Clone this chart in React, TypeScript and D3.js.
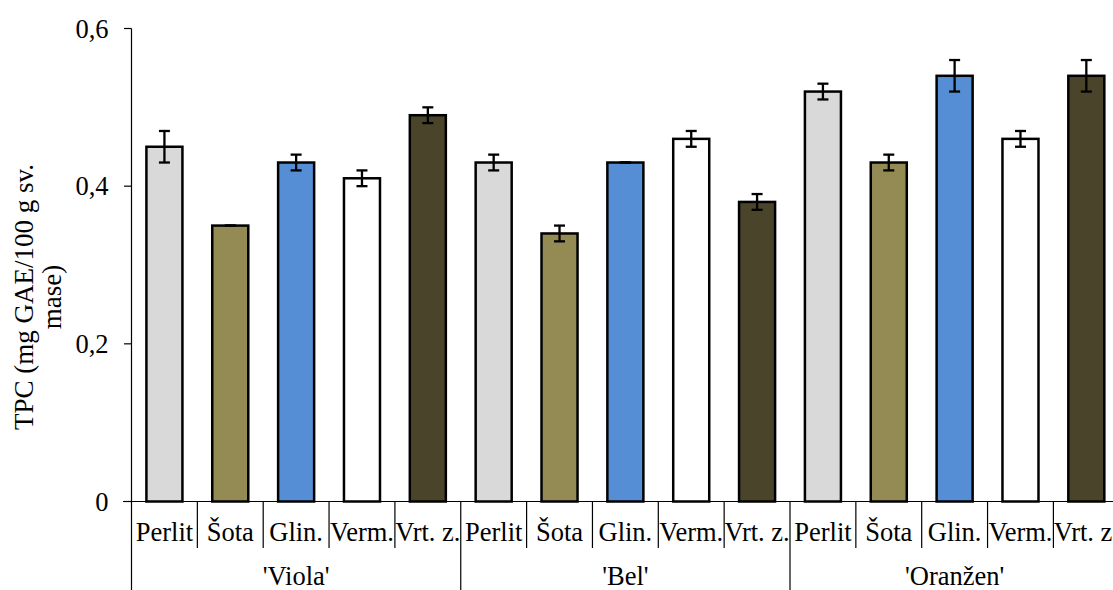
import React from "react";
import * as d3 from "d3";

// Substrates (categories within each cultivar)
const substrates = ["Perlit", "Šota", "Glin.", "Verm.", "Vrt. z."];
// Cultivars (outer grouping)
const cultivars = ["'Viola'", "'Bel'", "'Oranžen'"];
// Mean TPC per cultivar, in substrate order
const violaValues = [0.45, 0.35, 0.43, 0.41, 0.49];
const belValues = [0.43, 0.34, 0.43, 0.46, 0.38];
const oranzenValues = [0.52, 0.43, 0.54, 0.46, 0.54];
// Standard deviations
const violaErrors = [0.02, 0, 0.01, 0.01, 0.01];
const belErrors = [0.01, 0.01, 0, 0.01, 0.01];
const oranzenErrors = [0.01, 0.01, 0.02, 0.01, 0.02];
// Axis ticks
const yTicks = [0, 0.2, 0.4, 0.6];
const yTickLabels = ["0", "0,2", "0,4", "0,6"];
const yTitleLines = ["TPC (mg GAE/100 g sv.", "mase)"];
// Fill per substrate
const substrateColors = ["#d9d9d9", "#948a54", "#558ed5", "#ffffff", "#4a452a"];

const W = 1113;
const H = 590;
const FONT = "Liberation Serif, Times New Roman, serif";

export default function App() {
  const left = 131.5;
  const step = 65.85;
  const nCat = substrates.length * cultivars.length;
  const right = left + step * nCat;
  const yZero = 501.5;
  const yTop = 28.5;

  const valuesByCultivar = [violaValues, belValues, oranzenValues];
  const errorsByCultivar = [violaErrors, belErrors, oranzenErrors];

  const rows = cultivars.flatMap((c, gi) =>
    substrates.map((s, si) => ({
      key: `${gi}-${si}`,
      index: gi * substrates.length + si,
      substrate: s,
      value: valuesByCultivar[gi][si],
      err: errorsByCultivar[gi][si],
      color: substrateColors[si],
    }))
  );

  const x = d3
    .scaleBand<number>()
    .domain(d3.range(nCat))
    .range([left, right])
    .paddingInner(0.453)
    .paddingOuter(0.2265);

  const y = d3.scaleLinear().domain([0, 0.6]).range([yZero, yTop]);

  const groupEdges = d3.range(cultivars.length + 1).map((g) => left + g * substrates.length * step);
  const textStyle = { fontFamily: FONT, fontSize: 26.5 };
  const titleStyle = { fontFamily: FONT, fontSize: 27 };

  return (
    <div style={{ position: "absolute", left: 0, top: 0 }}>
      <svg width={W} height={H} style={{ display: "block", background: "#fff" }}>
        {/* bars */}
        {rows.map((d) => (
          <rect
            key={`b${d.key}`}
            x={x(d.index)}
            y={y(d.value)}
            width={x.bandwidth()}
            height={yZero - y(d.value)}
            fill={d.color}
            stroke="#000"
            strokeWidth={2.5}
          />
        ))}
        {/* error bars */}
        {rows.map((d) => {
          const cx = (x(d.index) as number) + x.bandwidth() / 2;
          const y1 = y(d.value + d.err);
          const y2 = y(d.value - d.err);
          return (
            <g key={`e${d.key}`} stroke="#000" strokeWidth={2.3}>
              <line x1={cx} x2={cx} y1={y1} y2={y2} />
              <line x1={cx - 5.5} x2={cx + 5.5} y1={y1} y2={y1} />
              <line x1={cx - 5.5} x2={cx + 5.5} y1={y2} y2={y2} />
            </g>
          );
        })}
        {/* y axis */}
        <line x1={left} x2={left} y1={yTop} y2={H} stroke="#000" strokeWidth={1.2} />
        {yTicks.map((t, i) => (
          <g key={`t${i}`}>
            <line x1={left - 7.5} x2={left} y1={y(t)} y2={y(t)} stroke="#000" strokeWidth={1.2} />
            <text x={108.5} y={y(t) + 9} textAnchor="end" style={textStyle} fill="#000">
              {yTickLabels[i]}
            </text>
          </g>
        ))}
        {/* y axis title */}
        <g transform={`translate(0, 297) rotate(-90)`}>
          <text x={0} y={33} textAnchor="middle" style={titleStyle} fill="#000">
            {yTitleLines[0]}
          </text>
          <text x={0} y={61} textAnchor="middle" style={titleStyle} fill="#000">
            {yTitleLines[1]}
          </text>
        </g>
        {/* x axis baseline */}
        <line x1={123} x2={right} y1={yZero} y2={yZero} stroke="#000" strokeWidth={1.2} />
        {/* category separators */}
        {d3.range(1, nCat + 1).map((k) =>
          k % substrates.length === 0 ? null : (
            <line
              key={`s${k}`}
              x1={left + k * step}
              x2={left + k * step}
              y1={yZero}
              y2={548}
              stroke="#000"
              strokeWidth={1.2}
            />
          )
        )}
        {/* group separators */}
        {groupEdges.slice(1).map((gx, i) => (
          <line key={`g${i}`} x1={gx} x2={gx} y1={yZero} y2={H} stroke="#000" strokeWidth={1.2} />
        ))}
        {/* category labels */}
        {rows.map((d) => (
          <text
            key={`l${d.key}`}
            x={(x(d.index) as number) + x.bandwidth() / 2}
            y={541}
            textAnchor="middle"
            style={textStyle}
            fill="#000"
          >
            {d.substrate}
          </text>
        ))}
        {/* cultivar labels */}
        {cultivars.map((c, gi) => (
          <text
            key={`c${gi}`}
            x={(groupEdges[gi] + groupEdges[gi + 1]) / 2}
            y={584.5}
            textAnchor="middle"
            style={textStyle}
            fill="#000"
          >
            {c}
          </text>
        ))}
      </svg>
    </div>
  );
}
